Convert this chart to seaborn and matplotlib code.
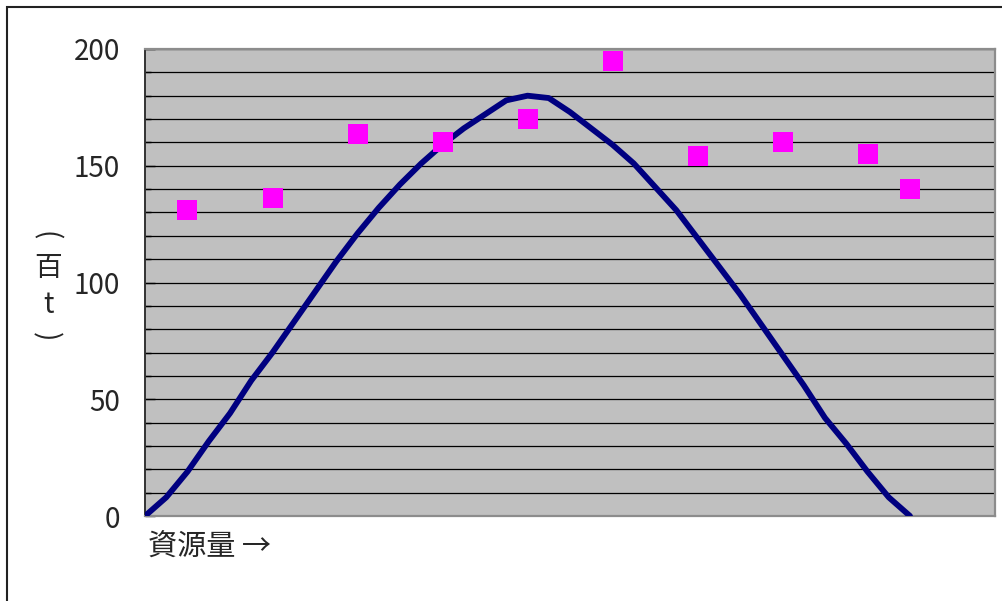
import matplotlib
matplotlib.use('Agg')
import matplotlib.pyplot as plt
import seaborn as sns
import pandas as pd
from matplotlib.patches import Rectangle

# surplus production curve
curve_x = [0, 0.25, 0.5, 0.75, 1.0, 1.25, 1.5, 1.75, 2.0, 2.25, 2.5, 2.75, 3.0,
           3.25, 3.5, 3.75, 4.0, 4.25, 4.5, 4.75, 5.0, 5.25, 5.5, 5.75, 6.0,
           6.25, 6.5, 6.75, 7.0, 7.25, 7.5, 7.75, 8.0, 8.25, 8.5, 8.75, 9.0]
curve_y = [0, 8, 19, 32, 44, 58, 70, 83, 96, 109, 121, 132, 142,
           151, 159, 166, 172, 178, 180, 179, 173, 166, 159, 151, 141,
           131, 119, 107, 95, 82, 69, 56, 42, 31, 19, 8, 0]

# observed catches
obs_x = [0.5, 1.5, 2.5, 3.5, 4.5, 5.5, 6.5, 7.5, 8.5, 9.0]
obs_y = [131, 136, 163.5, 160, 170, 195, 154, 160, 155, 140]

y_ticks = [0, 50, 100, 150, 200]
x_label = '資源量 →'

sns.set_theme(style='white')
plt.rcParams['font.family'] = ['Noto Sans CJK JP', 'DejaVu Sans']

W, H = 1003, 601
fig = plt.figure(figsize=(W / 100, H / 100), dpi=100)
ax = fig.add_axes([145 / W, (H - 516) / H, 850 / W, 467 / H])
ax.set_facecolor('#C0C0C0')

curve = pd.DataFrame({'x': curve_x, 'y': curve_y})
obs = pd.DataFrame({'x': obs_x, 'y': obs_y})

sns.lineplot(data=curve, x='x', y='y', sort=False, color='#000080',
             linewidth=4.2, ax=ax, zorder=3, solid_capstyle='round',
             solid_joinstyle='round')
sns.scatterplot(data=obs, x='x', y='y', marker='s', s=190, color='#FF00FF',
                linewidth=0, ax=ax, zorder=4)

ax.set_xlim(0, 10)
ax.set_ylim(0, 200)
ax.set_xticks([])
ax.set_yticks(y_ticks)
ax.set_yticks(range(0, 201, 10), minor=True)
ax.tick_params(axis='y', which='major', direction='in', length=7, width=1,
               color='black', labelsize=20, pad=18, left=True)
ax.tick_params(axis='y', which='minor', direction='in', length=4, width=1,
               color='black', left=True)
ax.grid(axis='y', which='both', color='black', linewidth=0.9)
ax.set_axisbelow(True)
ax.set_xlabel('')
ax.set_ylabel('')

for side in ['top', 'right', 'bottom']:
    ax.spines[side].set_color('#8C8C8C')
    ax.spines[side].set_linewidth(1.6)
ax.spines['left'].set_color('#333333')
ax.spines['left'].set_linewidth(1.4)

# vertical y label: (百t) written top to bottom, parens turned sideways
fig.text(45 / W, 1 - 236 / H, '(', ha='center', va='center', fontsize=20,
         rotation=-90)
fig.text(48 / W, 1 - 268 / H, '百', ha='center', va='center', fontsize=20)
fig.text(48 / W, 1 - 305 / H, 't', ha='center', va='center', fontsize=20)
fig.text(45 / W, 1 - 337 / H, ')', ha='center', va='center', fontsize=20,
         rotation=-90)

fig.text(148 / W, 1 - 548 / H, x_label, ha='left', va='center', fontsize=21)

# outer chart frame
fig.patches.append(Rectangle((7 / W, -0.05), 1.1, 1 - 7 / H + 0.05,
                             transform=fig.transFigure, fill=False,
                             edgecolor='#222222', linewidth=1.5))

fig.savefig('out.png', dpi=100)
